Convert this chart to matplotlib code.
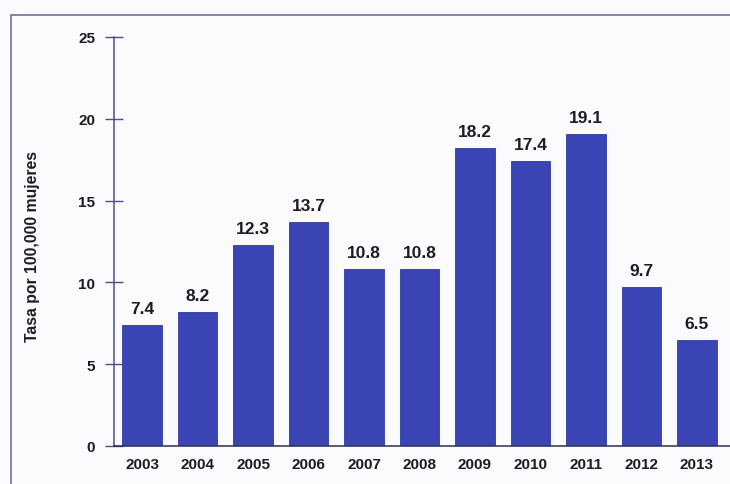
import matplotlib.pyplot as plt
from matplotlib.patches import Rectangle

plt.rcParams['font.family'] = ['Liberation Sans', 'DejaVu Sans']

# Tasa de mortalidad por año
years = ['2003', '2004', '2005', '2006', '2007', '2008',
         '2009', '2010', '2011', '2012', '2013']
rates = [7.4, 8.2, 12.3, 13.7, 10.8, 10.8, 18.2, 17.4, 19.1, 9.7, 6.5]
y_ticks = [0, 5, 10, 15, 20, 25]

BAR_COLOR = '#3a44b4'
TEXT_COLOR = '#1c1c24'
AXIS_COLOR = '#4a4f8c'

fig = plt.figure(figsize=(7.3, 4.85), dpi=100)
fig.patch.set_facecolor('#fbfbfd')

# frame around the chart
fig.patches.append(Rectangle((11 / 730, -0.1), 1.2, 1 - 16 / 485 + 0.1,
                             transform=fig.transFigure, fill=False,
                             edgecolor='#6b6fa8', linewidth=1.2))

ax = fig.add_axes([114 / 730, 1 - 447 / 485, 616 / 730, 409 / 485])
ax.set_facecolor('none')

x = list(range(len(years)))
ax.bar(x, rates, width=0.72, color=BAR_COLOR, edgecolor='#2f3a9e', linewidth=0.6)

for xi, v in zip(x, rates):
    ax.text(xi, v + 0.55, f'{v:.1f}', ha='center', va='bottom',
            fontsize=12.5, fontweight='bold', color=TEXT_COLOR)

ax.set_xlim(-0.505, 10.595)
ax.set_ylim(0, 25)
ax.set_yticks(y_ticks)
ax.set_xticks(x)
ax.set_xticklabels(years)

ax.tick_params(axis='y', direction='inout', length=13, width=1,
               color=AXIS_COLOR, pad=7, labelsize=11, labelcolor=TEXT_COLOR)
ax.tick_params(axis='x', length=0, pad=8, labelsize=11, labelcolor=TEXT_COLOR)
for lbl in ax.get_xticklabels() + ax.get_yticklabels():
    lbl.set_fontweight('bold')

for side in ['top', 'right']:
    ax.spines[side].set_visible(False)
ax.spines['left'].set_color(AXIS_COLOR)
ax.spines['left'].set_linewidth(1.1)
ax.spines['bottom'].set_color('#2a2d55')
ax.spines['bottom'].set_linewidth(1.1)

fig.text(33 / 730, 1 - 246 / 485, 'Tasa por 100,000 mujeres', rotation=90,
         ha='center', va='center', fontsize=11.3, fontweight='bold',
         color=TEXT_COLOR)

fig.savefig('out.png', dpi=100, facecolor=fig.get_facecolor())
